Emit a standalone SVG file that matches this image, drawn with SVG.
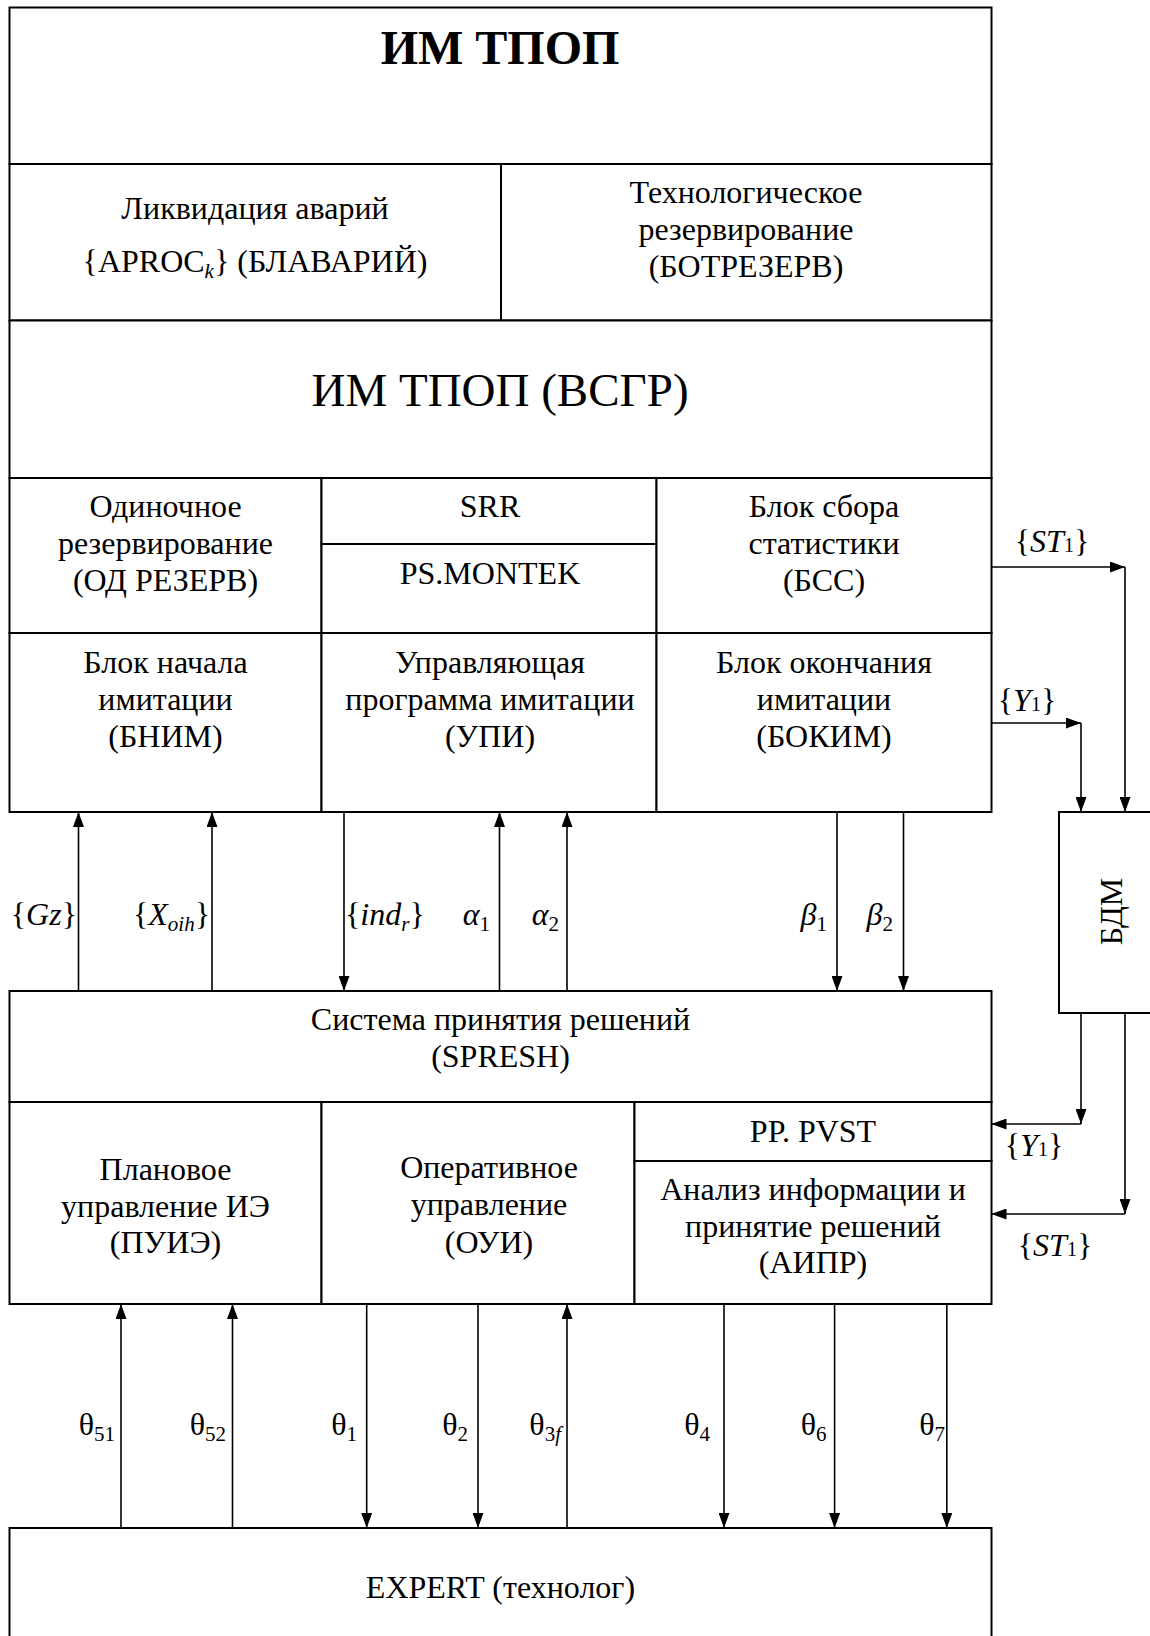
<svg xmlns="http://www.w3.org/2000/svg" width="1150" height="1636" viewBox="0 0 1150 1636">
<style>
.b{fill:#fff;stroke:#000;stroke-width:2}
.t{font-family:"Liberation Serif","Times New Roman",serif;font-size:32px;fill:#000;text-anchor:middle}
.l{font-family:"Liberation Serif","Times New Roman",serif;font-size:32px;fill:#000}
.c{stroke:#000;stroke-width:1.6;fill:none}
.i{font-style:italic}
</style>
<defs>
<marker id="ah" viewBox="0 0 15 11" markerWidth="15" markerHeight="11" refX="15" refY="5.5" orient="auto" markerUnits="userSpaceOnUse">
<path d="M0,0 L15,5.5 L0,11 z" fill="#000"/>
</marker>
</defs>
<rect x="0" y="0" width="1150" height="1636" fill="#fff"/>

<g id="title"><rect class="b" x="9.5" y="7.5" width="982" height="156.5"/>
<text class="t" x="500" y="64" style="font-size:48px;font-weight:bold">ИМ ТПОП</text></g>
<g id="blavariy"><rect class="b" x="9.5" y="164" width="491.5" height="156.5"/>
<text class="t" x="255" y="219">Ликвидация аварий</text>
<text class="t" x="255" y="272">{APROC<tspan class="i" font-size="21" dy="6">k</tspan><tspan dy="-6">} (БЛАВАРИЙ)</tspan></text></g>
<g id="botrezerv"><rect class="b" x="501" y="164" width="490.5" height="156.5"/>
<text class="t" x="746" y="203">Технологическое</text>
<text class="t" x="746" y="240">резервирование</text>
<text class="t" x="746" y="277">(БОТРЕЗЕРВ)</text></g>
<g id="vsgr"><rect class="b" x="9.5" y="320.5" width="982" height="157.5"/>
<text class="t" x="500" y="406" style="font-size:47px">ИМ ТПОП (ВСГР)</text></g>
<g id="odrezerv"><rect class="b" x="9.5" y="478" width="312" height="155"/>
<text class="t" x="165.5" y="517">Одиночное</text>
<text class="t" x="165.5" y="554">резервирование</text>
<text class="t" x="165.5" y="591">(ОД РЕЗЕРВ)</text></g>
<g id="srr"><rect class="b" x="321.5" y="478" width="335" height="66"/>
<text class="t" x="490" y="517">SRR</text></g>
<g id="psmontek"><rect class="b" x="321.5" y="544" width="335" height="89"/>
<text class="t" x="490" y="584">PS.MONTEK</text></g>
<g id="bss"><rect class="b" x="656.5" y="478" width="335" height="155"/>
<text class="t" x="824" y="517">Блок сбора</text>
<text class="t" x="824" y="554">статистики</text>
<text class="t" x="824" y="591">(БСС)</text></g>
<g id="bnim"><rect class="b" x="9.5" y="633" width="312" height="179"/>
<text class="t" x="165.5" y="673">Блок начала</text>
<text class="t" x="165.5" y="710">имитации</text>
<text class="t" x="165.5" y="747">(БНИМ)</text></g>
<g id="upi"><rect class="b" x="321.5" y="633" width="335" height="179"/>
<text class="t" x="490" y="673">Управляющая</text>
<text class="t" x="490" y="710">программа имитации</text>
<text class="t" x="490" y="747">(УПИ)</text></g>
<g id="bokim"><rect class="b" x="656.5" y="633" width="335" height="179"/>
<text class="t" x="824" y="673">Блок окончания</text>
<text class="t" x="824" y="710">имитации</text>
<text class="t" x="824" y="747">(БОКИМ)</text></g>
<g id="spresh"><rect class="b" x="9.5" y="991" width="982" height="111"/>
<text class="t" x="500.5" y="1030">Система принятия решений</text>
<text class="t" x="500.5" y="1067">(SPRESH)</text></g>
<g id="puie"><rect class="b" x="9.5" y="1102" width="312" height="202"/>
<text class="t" x="165.5" y="1180">Плановое</text>
<text class="t" x="165.5" y="1217">управление ИЭ</text>
<text class="t" x="165.5" y="1253">(ПУИЭ)</text></g>
<g id="oui"><rect class="b" x="321.5" y="1102" width="313" height="202"/>
<text class="t" x="489" y="1178">Оперативное</text>
<text class="t" x="489" y="1215">управление</text>
<text class="t" x="489" y="1253">(ОУИ)</text></g>
<g id="pppvst"><rect class="b" x="634.5" y="1102" width="357" height="59"/>
<text class="t" x="813" y="1142">PP. PVST</text></g>
<g id="aipr"><rect class="b" x="634.5" y="1161" width="357" height="143"/>
<text class="t" x="813" y="1200">Анализ информации и</text>
<text class="t" x="813" y="1237">принятие решений</text>
<text class="t" x="813" y="1273">(АИПР)</text></g>
<g id="expert"><rect class="b" x="9.5" y="1528" width="982" height="130"/>
<text class="t" x="500.5" y="1598">EXPERT (технолог)</text></g>
<g id="bdm"><rect class="b" x="1059" y="812" width="120" height="201"/>
<text class="t" transform="translate(1122,911.5) rotate(-90)" x="0" y="0">БДМ</text></g>

<g id="connectors">
<line class="c" x1="78.5" y1="991" x2="78.5" y2="812" marker-end="url(#ah)"/>
<line class="c" x1="212" y1="991" x2="212" y2="812" marker-end="url(#ah)"/>
<line class="c" x1="344" y1="812" x2="344" y2="991" marker-end="url(#ah)"/>
<line class="c" x1="499.5" y1="991" x2="499.5" y2="812" marker-end="url(#ah)"/>
<line class="c" x1="567" y1="991" x2="567" y2="812" marker-end="url(#ah)"/>
<line class="c" x1="837" y1="812" x2="837" y2="991" marker-end="url(#ah)"/>
<line class="c" x1="903.5" y1="812" x2="903.5" y2="991" marker-end="url(#ah)"/>

<line class="c" x1="121" y1="1528" x2="121" y2="1304" marker-end="url(#ah)"/>
<line class="c" x1="232.5" y1="1528" x2="232.5" y2="1304" marker-end="url(#ah)"/>
<line class="c" x1="366.7" y1="1304" x2="366.7" y2="1528" marker-end="url(#ah)"/>
<line class="c" x1="478" y1="1304" x2="478" y2="1528" marker-end="url(#ah)"/>
<line class="c" x1="567" y1="1528" x2="567" y2="1304" marker-end="url(#ah)"/>
<line class="c" x1="724" y1="1304" x2="724" y2="1528" marker-end="url(#ah)"/>
<line class="c" x1="834.6" y1="1304" x2="834.6" y2="1528" marker-end="url(#ah)"/>
<line class="c" x1="946.8" y1="1304" x2="946.8" y2="1528" marker-end="url(#ah)"/>

<line class="c" x1="991.5" y1="567" x2="1125" y2="567" marker-end="url(#ah)"/>
<line class="c" x1="1125" y1="567" x2="1125" y2="812" marker-end="url(#ah)"/>
<line class="c" x1="991.5" y1="723" x2="1081" y2="723" marker-end="url(#ah)"/>
<line class="c" x1="1081" y1="723" x2="1081" y2="812" marker-end="url(#ah)"/>
<line class="c" x1="1081" y1="1013" x2="1081" y2="1124" marker-end="url(#ah)"/>
<line class="c" x1="1081" y1="1124" x2="991.5" y2="1124" marker-end="url(#ah)"/>
<line class="c" x1="1125" y1="1013" x2="1125" y2="1214" marker-end="url(#ah)"/>
<line class="c" x1="1125" y1="1214" x2="991.5" y2="1214" marker-end="url(#ah)"/>

<text class="l" x="77" y="925" text-anchor="end">{<tspan class="i">Gz</tspan>}</text>
<text class="l" x="210" y="925" text-anchor="end">{<tspan class="i">X</tspan><tspan class="i" font-size="21" dy="6">oih</tspan><tspan dy="-6">}</tspan></text>
<text class="l" x="345" y="925">{<tspan class="i">ind</tspan><tspan class="i" font-size="21" dy="6">r</tspan><tspan dy="-6">}</tspan></text>
<text class="l" x="490" y="925" text-anchor="end"><tspan class="i">α</tspan><tspan font-size="21" dy="6">1</tspan></text>
<text class="l" x="559" y="925" text-anchor="end"><tspan class="i">α</tspan><tspan font-size="21" dy="6">2</tspan></text>
<text class="l" x="827" y="925" text-anchor="end"><tspan class="i">β</tspan><tspan font-size="21" dy="6">1</tspan></text>
<text class="l" x="893" y="925" text-anchor="end"><tspan class="i">β</tspan><tspan font-size="21" dy="6">2</tspan></text>

<text class="l" x="115" y="1435" text-anchor="end">θ<tspan font-size="21" dy="6">51</tspan></text>
<text class="l" x="226" y="1435" text-anchor="end">θ<tspan font-size="21" dy="6">52</tspan></text>
<text class="l" x="357" y="1435" text-anchor="end">θ<tspan font-size="21" dy="6">1</tspan></text>
<text class="l" x="468" y="1435" text-anchor="end">θ<tspan font-size="21" dy="6">2</tspan></text>
<text class="l" x="561" y="1435" text-anchor="end">θ<tspan font-size="21" dy="6">3</tspan><tspan class="i" font-size="21">f</tspan></text>
<text class="l" x="710" y="1435" text-anchor="end">θ<tspan font-size="21" dy="6">4</tspan></text>
<text class="l" x="826.5" y="1435" text-anchor="end">θ<tspan font-size="21" dy="6">6</tspan></text>
<text class="l" x="945" y="1435" text-anchor="end">θ<tspan font-size="21" dy="6">7</tspan></text>

<text class="l" x="1052" y="552" text-anchor="middle" font-size="28">{<tspan class="i">ST</tspan><tspan font-size="20">1</tspan>}</text>
<text class="l" x="1027" y="711" text-anchor="middle" font-size="28">{<tspan class="i">Y</tspan><tspan font-size="20">1</tspan>}</text>
<text class="l" x="1034" y="1156" text-anchor="middle" font-size="28">{<tspan class="i">Y</tspan><tspan font-size="20">1</tspan>}</text>
<text class="l" x="1055" y="1256" text-anchor="middle" font-size="28">{<tspan class="i">ST</tspan><tspan font-size="20">1</tspan>}</text>
</g>
</svg>
